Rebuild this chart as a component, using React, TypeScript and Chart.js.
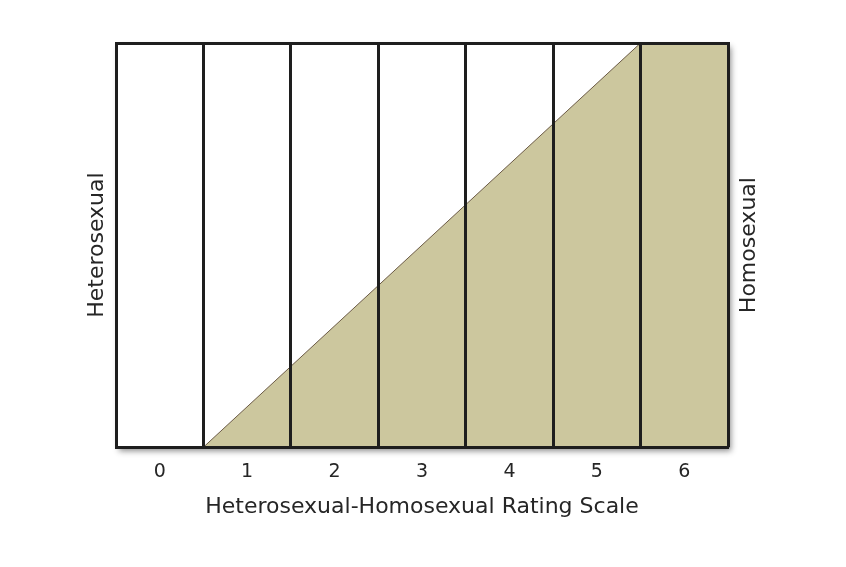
import React, { useEffect, useRef } from "react";
import { Chart, registerables } from "chart.js";

Chart.register(...registerables);

// Rating scale categories (0..6), centred in their columns
const tickLabels = ["0", "1", "2", "3", "4", "5", "6"];
// Column boundaries run 0..7 on the grid axis
const columnBoundaries = [0, 1, 2, 3, 4, 5, 6, 7];
// Shaded "homosexual" share: ramps from the start of column 1 to the top at the start of column 6
const rampX = [0.5, 5.5, 6.5];
const rampY = [0, 1, 1];

const xTitle = "Heterosexual-Homosexual Rating Scale";
const leftLabel = "Heterosexual";
const rightLabel = "Homosexual";

const FONT = "'DejaVu Sans', 'Liberation Sans', Arial, sans-serif";
const TEXT = "#262626";
const LINE = "#1e1e1e";
const FILL = "#ccc79e";

const sideLabels = {
  id: "sideLabels",
  beforeDraw(chart: any) {
    const { ctx, chartArea } = chart;
    ctx.save();
    ctx.shadowColor = "rgba(0,0,0,0.45)";
    ctx.shadowBlur = 6;
    ctx.shadowOffsetX = 3;
    ctx.shadowOffsetY = 4;
    ctx.fillStyle = "#ffffff";
    ctx.fillRect(chartArea.left, chartArea.top, chartArea.right - chartArea.left, chartArea.bottom - chartArea.top);
    ctx.restore();
  },
  afterDraw(chart: any) {
    const { ctx, chartArea } = chart;
    const cy = (chartArea.top + chartArea.bottom) / 2;
    const draw = (text: string, x: number) => {
      ctx.save();
      ctx.fillStyle = TEXT;
      ctx.font = `22px ${FONT}`;
      ctx.textAlign = "center";
      ctx.textBaseline = "middle";
      ctx.translate(x, cy);
      ctx.rotate(-Math.PI / 2);
      ctx.fillText(text, 0, 0);
      ctx.restore();
    };
    draw(leftLabel, chartArea.left - 19);
    draw(rightLabel, chartArea.right + 21);
  },
};

export default function App() {
  const ref = useRef<HTMLCanvasElement | null>(null);
  useEffect(() => {
    if (!ref.current) return;
    const chart = new Chart(ref.current, {
      type: "line",
      data: {
        datasets: [
          {
            data: rampX.map((x, i) => ({ x, y: rampY[i] })),
            fill: "origin",
            backgroundColor: FILL,
            borderColor: "#6b5a45",
            borderWidth: 1,
            pointRadius: 0,
            tension: 0,
            xAxisID: "x",
            yAxisID: "y",
          },
        ],
      },
      plugins: [sideLabels],
      options: {
        animation: false,
        responsive: true,
        maintainAspectRatio: false,
        layout: { padding: { left: 116, right: 118, top: 43, bottom: 49 } },
        plugins: { legend: { display: false }, tooltip: { enabled: false } },
        scales: {
          x: {
            type: "linear",
            position: "bottom",
            min: -0.5,
            max: 6.5,
            afterBuildTicks: (scale: any) => {
              scale.ticks = tickLabels.map((_, i) => ({ value: i }));
            },
            ticks: {
              callback: (v: any) => tickLabels[Math.round(Number(v))] ?? "",
              font: { family: FONT, size: 19 },
              color: TEXT,
              padding: 13,
              maxRotation: 0,
              z: 2,
            },
            grid: { display: false, drawTicks: false },
            border: { display: true, color: LINE, width: 3, z: 2 },
            title: {
              display: true,
              text: xTitle,
              font: { family: FONT, size: 22, lineHeight: 1.0 },
              color: TEXT,
              padding: { top: 0, bottom: 0 },
            },
          },
          xg: {
            type: "linear",
            position: "top",
            min: 0,
            max: 7,
            afterBuildTicks: (scale: any) => {
              scale.ticks = columnBoundaries.map((v) => ({ value: v }));
            },
            ticks: { display: false },
            grid: { display: true, color: LINE, lineWidth: 3, drawTicks: false, z: 1 },
            border: { display: true, color: LINE, width: 3, z: 2 },
          },
          y: {
            type: "linear",
            min: 0,
            max: 1,
            display: false,
          },
        },
      },
    });
    return () => chart.destroy();
  }, []);
  return (
    <div style={{ position: "fixed", left: 0, top: 0, width: 846, height: 567, background: "#fff" }}>
      <canvas ref={ref} />
    </div>
  );
}
